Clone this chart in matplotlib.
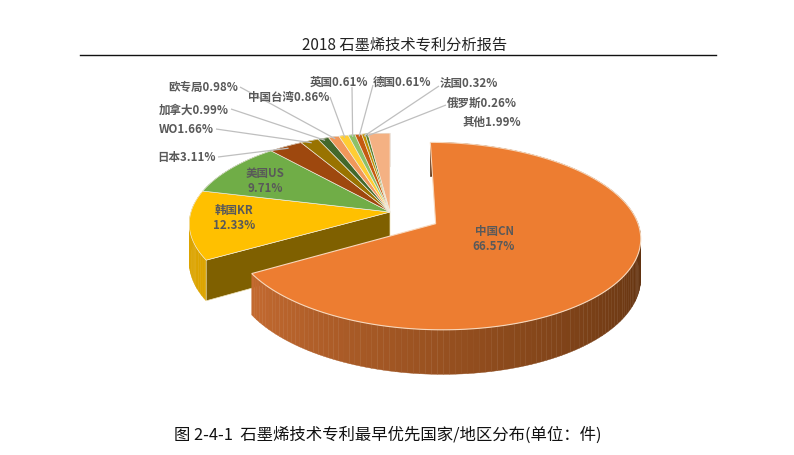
import numpy as np
import matplotlib
matplotlib.use("Agg")
import matplotlib.pyplot as plt
from matplotlib.patches import Polygon
from matplotlib.colors import to_rgb

plt.rcParams['font.family'] = ['Noto Sans CJK SC', 'DejaVu Sans']

# ---------------- data ----------------
categories = ["中国CN", "韩国KR", "美国US", "日本", "WO", "加拿大", "欧专局",
              "中国台湾", "英国", "德国", "法国", "俄罗斯", "其他"]
shares = [66.57, 12.33, 9.71, 3.11, 1.66, 0.99, 0.98, 0.86, 0.61, 0.61, 0.32, 0.26, 1.99]
colors = ["#ED7D31", "#FFC000", "#70AD47", "#9E480E", "#997300", "#43682B", "#F1975A",
          "#FFCD33", "#8CC168", "#C55A11", "#BF9000", "#548235", "#F4B183"]
header = "2018 石墨烯技术专利分析报告"
caption = "图 2-4-1  石墨烯技术专利最早优先国家/地区分布(单位：件)"

# ---------------- layout ----------------
W, Hpx = 794, 456
X0, Y0 = 390, 213      # screen position of pie centre
A, B = 199, 89         # horizontal / vertical radii
P = 0.13               # perspective strength
THICK = 38             # slice thickness
EXPLODE = 0.26         # explosion of first slice (radius units)

fig = plt.figure(figsize=(W / 100, Hpx / 100), dpi=100)
ax = fig.add_axes([0, 0, 1, 1])
ax.set_xlim(0, W)
ax.set_ylim(Hpx, 0)
ax.axis('off')


def proj(U, V, z=0.0):
    s = 1.0 / (1.0 + P * V)
    return X0 + A * U * s, Y0 - B * V * s + THICK * z * s


def mix(c1, c2, t):
    a, b = np.array(to_rgb(c1)), np.array(to_rgb(c2))
    return tuple(a + (b - a) * t)


# angles (deg): first slice starts at 12 o'clock, clockwise
vals = np.array(shares)
ends = 90 - np.cumsum(vals) / vals.sum() * 360
starts = np.concatenate([[90], ends[:-1]])
mids = (starts + ends) / 2


def slice_offset(i):
    if i == 0:
        m = np.radians(mids[0])
        return EXPLODE * np.cos(m), EXPLODE * np.sin(m)
    return 0.0, 0.0


def top_poly(i, n=240):
    du, dv = slice_offset(i)
    th = np.radians(np.linspace(ends[i], starts[i], max(4, int(n * (starts[i] - ends[i]) / 360) + 4)))
    return [proj(du, dv)] + [proj(du + np.cos(t), dv + np.sin(t)) for t in th]


def wall_quads(i, step=1.5):
    du, dv = slice_offset(i)
    th = np.linspace(ends[i], starts[i], max(2, int((starts[i] - ends[i]) / step) + 2))
    quads = []
    for a0, a1 in zip(th[:-1], th[1:]):
        r0, r1 = np.radians(a0), np.radians(a1)
        u0, v0 = du + np.cos(r0), dv + np.sin(r0)
        u1, v1 = du + np.cos(r1), dv + np.sin(r1)
        q = [proj(u0, v0), proj(u1, v1), proj(u1, v1, 1), proj(u0, v0, 1)]
        quads.append(((v0 + v1) / 2, (a0 + a1) / 2, q))
    return quads


def wall_color(i, ang):
    if i == 0:
        t = np.clip((ang - (-150)) / 150.0, 0, 1)
        if t < 0.5:
            return mix("#C46A30", "#8C4A1C", t / 0.5)
        return mix("#8C4A1C", "#5A2E0E", (t - 0.5) / 0.5)
    if i == 1:
        return "#DCA400"
    return mix(colors[i], "#000000", 0.35)


# ---- group of non-exploded slices (behind) ----
group = list(range(1, len(vals)))
qs = []
for i in group:
    for depth, ang, q in wall_quads(i):
        qs.append((depth, i, ang, q))
qs.sort(key=lambda t: -t[0])
for depth, i, ang, q in qs:
    c = wall_color(i, ang)
    ax.add_patch(Polygon(q, closed=True, facecolor=c, edgecolor=c, lw=0.3))

# radial cut face of the group, along the gap left by the exploded slice
r = np.radians(starts[1])
cut = [proj(0, 0), proj(np.cos(r), np.sin(r)), proj(np.cos(r), np.sin(r), 1), proj(0, 0, 1)]
ax.add_patch(Polygon(cut, closed=True, facecolor="#7F6000", edgecolor="#EFE3B8", lw=0.5))

for i in group:
    ax.add_patch(Polygon(top_poly(i), closed=True, facecolor=colors[i],
                         edgecolor="#F4F0E6", lw=0.45))

# ---- exploded first slice ----
qs = sorted(wall_quads(0), key=lambda t: -t[0])
for depth, ang, q in qs:
    c = wall_color(0, ang)
    ax.add_patch(Polygon(q, closed=True, facecolor=c, edgecolor=c, lw=0.3))
ax.add_patch(Polygon(top_poly(0), closed=True, facecolor=colors[0],
                     edgecolor="#F8D8BC", lw=0.8))

# ---------------- labels ----------------
lab_kw = dict(fontsize=8.3, color="#595959", fontweight="bold")
inside = {0: (494, 239), 1: (234, 218), 2: (265, 181)}
for i, (tx, ty) in inside.items():
    ax.text(tx, ty, f"{categories[i]}\n{shares[i]:.2f}%", ha="center", va="center",
            linespacing=1.25, **lab_kw)

# outside labels: text position, alignment, leader start
outside = {
    3: (216, 158, "right", (218, 158)),
    4: (214, 130, "right", (216, 130)),
    5: (229, 110, "right", (231, 110)),
    6: (238, 87, "right", (240, 88)),
    7: (329, 97, "right", (330, 98)),
    8: (339, 82, "center", (352, 88)),
    9: (402, 82, "center", (373, 86)),
    10: (469, 83, "center", (439, 87)),
    11: (482, 103, "center", (446, 106)),
    12: (492, 122, "center", None),
}
for i, (tx, ty, ha, start) in outside.items():
    ax.text(tx, ty, f"{categories[i]}{shares[i]:.2f}%", ha=ha, va="center", **lab_kw)
    if start is not None:
        m = np.radians(mids[i])
        ex, ey = proj(0.97 * np.cos(m), 0.97 * np.sin(m))
        ax.plot([start[0], ex], [start[1], ey], color="#BFBFBF", lw=0.9,
                solid_capstyle="butt")

# ---------------- header / caption ----------------
ax.text(405, 45, header, ha="center", va="center", fontsize=11, color="#222222")
ax.plot([80, 716], [56, 56], color="#111111", lw=1.0)
ax.text(388, 435, caption, ha="center", va="center", fontsize=11.8, color="#111111",
        fontweight="medium")

fig.savefig("out.png", dpi=100, facecolor="white")
